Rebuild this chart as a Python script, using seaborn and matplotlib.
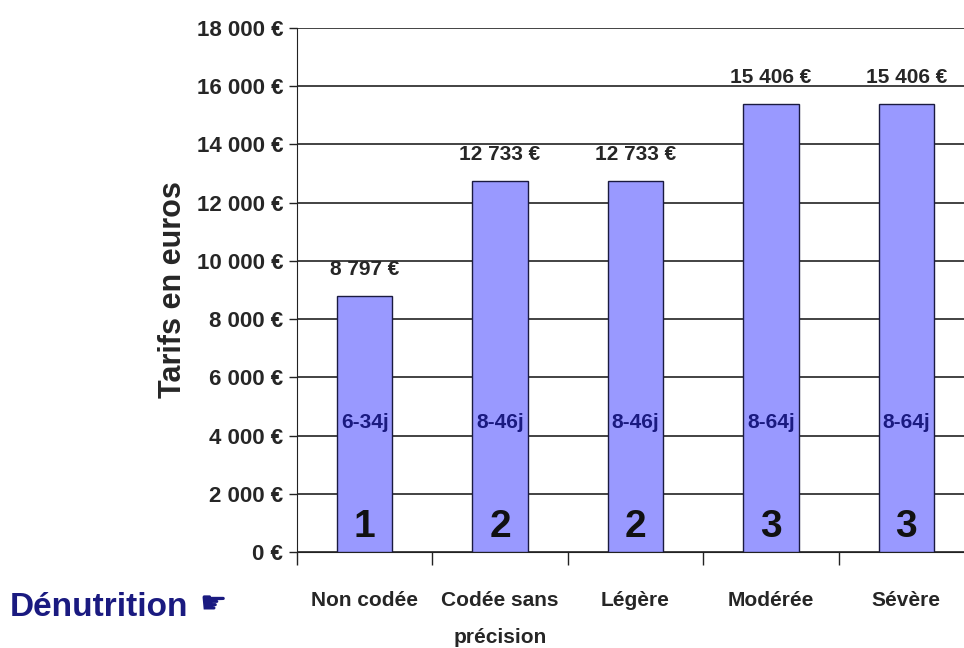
import matplotlib
matplotlib.use("Agg")
import matplotlib.pyplot as plt
import seaborn as sns
import pandas as pd

categories = ["Non codée", "Codée sans\nprécision", "Légère", "Modérée", "Sévère"]
tarifs = [8797, 12733, 12733, 15406, 15406]
value_labels = ["8 797 €", "12 733 €", "12 733 €", "15 406 €", "15 406 €"]
duree_labels = ["6-34j", "8-46j", "8-46j", "8-64j", "8-64j"]
niveaux = ["1", "2", "2", "3", "3"]
yticks = [0, 2000, 4000, 6000, 8000, 10000, 12000, 14000, 16000, 18000]
ytick_labels = ["0 €", "2 000 €", "4 000 €", "6 000 €", "8 000 €", "10 000 €",
                "12 000 €", "14 000 €", "16 000 €", "18 000 €"]

sns.set_style("white")
plt.rcParams["font.family"] = ["Liberation Sans", "DejaVu Sans"]

df = pd.DataFrame({"cat": categories, "tarif": tarifs})

fig = plt.figure(figsize=(9.64, 6.48), dpi=100)
ax = fig.add_axes([297 / 964, (648 - 552) / 648, 677 / 964, 524 / 648])
sns.barplot(data=df, x="cat", y="tarif", color="#9999FF", width=0.41,
            edgecolor="#1a1a40", linewidth=1.0, saturation=1, ax=ax, zorder=3)

ax.set_ylim(0, 18000)
ax.set_xlim(-0.5, 4.5)
ax.set_yticks(yticks)
ax.set_yticklabels(ytick_labels, fontsize=16, fontweight="bold")
ax.yaxis.grid(True, color="#222222", linewidth=1.2, zorder=0)
ax.set_axisbelow(True)
for s in ["top", "right"]:
    ax.spines[s].set_visible(False)
ax.spines["left"].set_color("#222222")
ax.spines["bottom"].set_color("#222222")
ax.tick_params(axis="y", length=6, width=1, direction="out", color="#222222", pad=4, left=True)

ax.set_xticks(range(len(categories)))
ax.set_xticklabels(categories, fontsize=15, fontweight="bold", linespacing=2.2, va="top")
ax.tick_params(axis="x", length=0, pad=28)
ax.set_xticks([-0.5, 0.5, 1.5, 2.5, 3.5, 4.5], minor=True)
ax.tick_params(axis="x", which="minor", length=9, width=1, color="#222222", bottom=True)

ax.set_xlabel("")
ax.set_ylabel("Tarifs en euros", fontsize=22, fontweight="bold", labelpad=6)

for i, (v, vl, dl, n) in enumerate(zip(tarifs, value_labels, duree_labels, niveaux)):
    ax.annotate(vl, (i, v), xytext=(0, 19), textcoords="offset points",
                ha="center", va="center", fontsize=15, fontweight="bold", zorder=5)
    ax.text(i, 4450, dl, ha="center", va="center", fontsize=15, fontweight="bold",
            color="#1a1a80", zorder=5)
    ax.text(i, 850, n, ha="center", va="center", fontsize=28, fontweight="bold",
            color="#111111", zorder=5)

fig.text(10 / 964, 1 - 607 / 648, "Dénutrition", fontsize=24, fontweight="bold",
         color="#1a1a80", ha="left", va="center")
fig.text(199 / 964, 1 - 605 / 648, "☛", fontsize=22, color="#1a1a80",
         ha="left", va="center", family=["DejaVu Sans"])

fig.savefig("out.png", dpi=100)
